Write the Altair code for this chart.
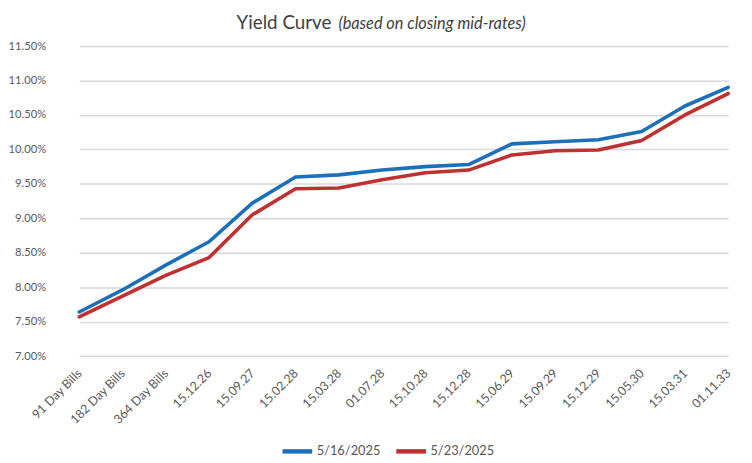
import altair as alt
import pandas as pd

categories = ["91 Day Bills", "182 Day Bills", "364 Day Bills", "15.12.26", "15.09.27",
              "15.02.28", "15.03.28", "01.07.28", "15.10.28", "15.12.28", "15.06.29",
              "15.09.29", "15.12.29", "15.05.30", "15.03.31", "01.11.33"]
series_a_name = "5/16/2025"
series_b_name = "5/23/2025"
series_a = [7.64, 7.96, 8.32, 8.66, 9.22, 9.60, 9.63, 9.70, 9.75, 9.78, 10.08, 10.11, 10.14, 10.26, 10.63, 10.90]
series_b = [7.57, 7.87, 8.17, 8.43, 9.05, 9.43, 9.44, 9.56, 9.66, 9.70, 9.92, 9.98, 9.99, 10.13, 10.50, 10.81]
y_ticks = [7.0, 7.5, 8.0, 8.5, 9.0, 9.5, 10.0, 10.5, 11.0, 11.5]

rows = []
for i, c in enumerate(categories):
    rows.append({"tenor": c, "series": series_a_name, "rate": series_a[i] / 100})
    rows.append({"tenor": c, "series": series_b_name, "rate": series_b[i] / 100})
df = pd.DataFrame(rows)

FONT = "Lato"
GREY = "#595959"

lines = alt.Chart(df).mark_line(strokeWidth=3.6, strokeCap="round", strokeJoin="round").encode(
    x=alt.X("tenor:N", sort=categories, title=None,
            scale=alt.Scale(type="point", range=[23, 679], padding=0),
            axis=alt.Axis(labelAngle=-45, labelAlign="right", labelBaseline="middle",
                          labelPadding=15, ticks=False, domain=False, grid=False,
                          labelFont=FONT, labelFontSize=12.5, labelColor=GREY,
                          labelOverlap=False, labelBound=False)),
    y=alt.Y("rate:Q", title=None,
            scale=alt.Scale(domain=[0.07, 0.115], nice=False, zero=False),
            axis=alt.Axis(values=[v / 100 for v in y_ticks], format=".2%",
                          ticks=False, domain=False, grid=True,
                          gridColor="#d9d9d9", gridWidth=1.6,
                          labelFont=FONT, labelFontSize=11.3, labelColor=GREY,
                          labelPadding=11)),
    color=alt.Color("series:N", sort=[series_a_name, series_b_name],
                    scale=alt.Scale(domain=[series_a_name, series_b_name],
                                    range=["#1C6FBA", "#BF3030"]),
                    legend=alt.Legend(title=None, orient="none", direction="horizontal",
                                      legendX=226, legendY=392,
                                      symbolType="stroke", symbolSize=900,
                                      symbolStrokeWidth=4.5,
                                      labelFont=FONT, labelFontSize=13, labelColor=GREY,
                                      columnPadding=6, labelOffset=2)),
)

title_df = pd.DataFrame({"t": ["Yield Curve"]})
title_main = alt.Chart(title_df).mark_text(
    font=FONT, fontSize=19, color="#404040", align="left", baseline="alphabetic"
).encode(text="t:N", x=alt.value(182), y=alt.value(-17))

sub_df = pd.DataFrame({"t": ["(based on closing mid-rates)"]})
title_sub = alt.Chart(sub_df).mark_text(
    font=FONT, fontSize=16.5, fontStyle="italic", color="#404040", align="left", baseline="alphabetic"
).encode(text="t:N", x=alt.value(285), y=alt.value(-17))

chart = alt.layer(lines, title_main, title_sub).properties(
    width=695, height=313.4,
    autosize=alt.AutoSizeParams(type="none"),
    padding={"left": 49, "top": 36, "right": 0, "bottom": 105},
    background="white",
).configure_view(stroke=None)

chart.save("out.html", embed_options={"renderer": "svg", "actions": False})
